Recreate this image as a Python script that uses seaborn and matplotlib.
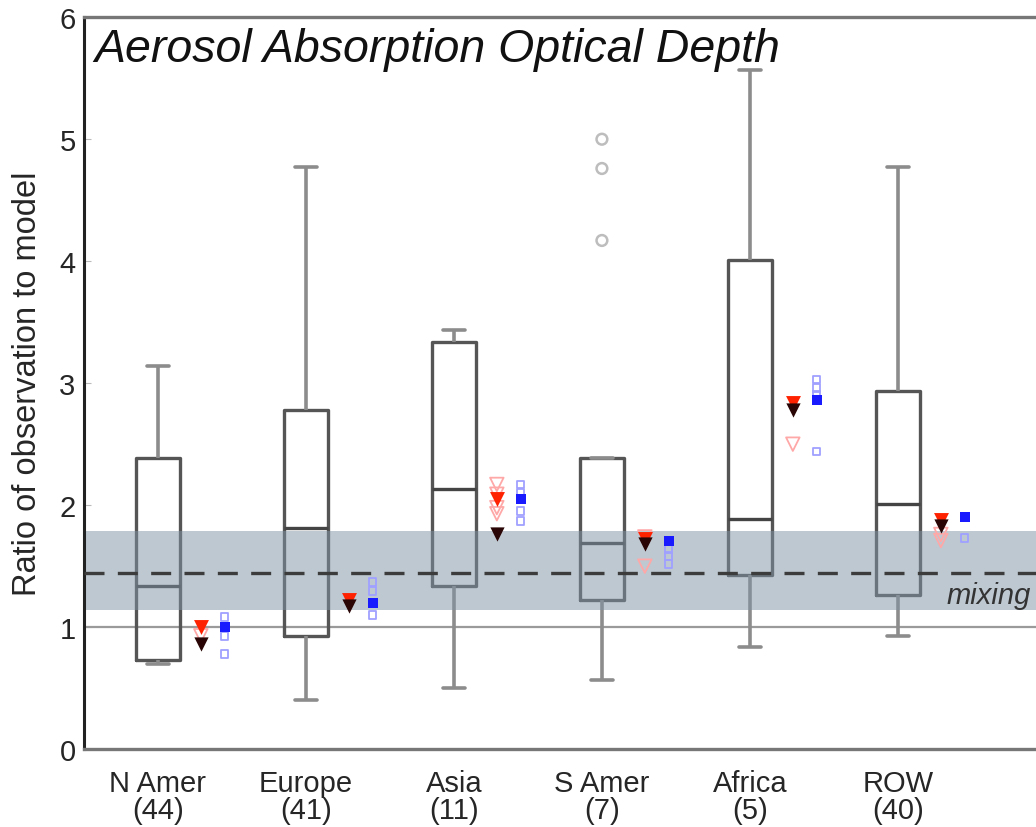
import numpy as np
import pandas as pd
import matplotlib
matplotlib.use('Agg')
import matplotlib.pyplot as plt
import seaborn as sns

# five-number summaries: whisker low, Q1, median, Q3, whisker high
regions = ['N Amer', 'Europe', 'Asia', 'S Amer', 'Africa', 'ROW']
counts = [44, 41, 11, 7, 5, 40]
whisk_lo = [0.70, 0.40, 0.50, 0.57, 0.84, 0.93]
q1 = [0.73, 0.93, 1.34, 1.22, 1.43, 1.26]
median = [1.34, 1.81, 2.13, 1.69, 1.89, 2.01]
q3 = [2.39, 2.78, 3.34, 2.39, 4.01, 2.94]
whisk_hi = [3.14, 4.77, 3.44, 2.39, 5.57, 4.77]

# outliers (S Amer)
outlier_region = ['S Amer', 'S Amer', 'S Amer']
outlier_value = [5.0, 4.76, 4.17]

# model points next to each box
red_main = [1.00, 1.22, 2.05, 1.72, 2.84, 1.88]
dark_main = [0.86, 1.17, 1.76, 1.68, 2.78, 1.83]
red_open_region = ['N Amer', 'Asia', 'Asia', 'Asia', 'Asia', 'S Amer', 'S Amer', 'Africa', 'ROW', 'ROW']
red_open_value = [0.93, 2.17, 2.09, 1.98, 1.93, 1.74, 1.50, 2.50, 1.76, 1.71]
blue_main = [1.00, 1.20, 2.05, 1.71, 2.86, 1.90]
blue_open_region = ['N Amer', 'N Amer', 'N Amer', 'Europe', 'Europe', 'Europe',
                    'Asia', 'Asia', 'Asia', 'Asia', 'S Amer', 'S Amer', 'S Amer',
                    'Africa', 'Africa', 'Africa', 'Africa', 'ROW']
blue_open_value = [1.08, 0.93, 0.78, 1.37, 1.30, 1.10,
                   2.17, 2.10, 1.95, 1.87, 1.64, 1.58, 1.52,
                   3.03, 2.96, 2.90, 2.44, 1.73]

band_lo, band_hi = 1.14, 1.79
dashed_y = 1.44
ref_y = 1.0

rows = []
for i, r in enumerate(regions):
    for v in [whisk_lo[i], q1[i], median[i], q3[i], whisk_hi[i]]:
        rows.append({'region': r, 'ratio': v})
df = pd.DataFrame(rows)

sns.set_style('white')
plt.rcParams['font.family'] = ['Liberation Sans', 'DejaVu Sans']

fig = plt.figure(figsize=(10.36, 8.28), dpi=100)
ax = fig.add_axes([0.081, 0.094, 1.0, 0.884])

box_col = '#555555'
wh_col = '#8c8c8c'
sns.boxplot(data=df, x='region', y='ratio', order=regions, whis=(0, 100), width=0.3,
            fill=False, color=box_col, linewidth=2.4, showfliers=False, ax=ax,
            whiskerprops=dict(color=wh_col, linewidth=2.6),
            capprops=dict(color=wh_col, linewidth=2.6),
            medianprops=dict(color='#444444', linewidth=2.4))
for line in ax.lines:
    line.set_zorder(2)

pos = {r: i for i, r in enumerate(regions)}
ax.scatter([pos[r] for r in outlier_region], outlier_value, s=60, facecolors='none',
           edgecolors='#bdbdbd', linewidths=1.8, zorder=3)

# reference lines and band
ax.axhspan(band_lo, band_hi, color='#7f93a5', alpha=0.5, lw=0, zorder=2.5)
ax.axhline(ref_y, color='#9a9a9a', lw=1.6, zorder=1)
ax.axhline(dashed_y, color='#3c3c3c', lw=2.4, dashes=(6, 4), zorder=2.6)

x = np.arange(len(regions))
red_dx, blue_dx = 0.29, 0.45
ax.scatter([pos[r] + red_dx for r in red_open_region], red_open_value, marker='v', s=95,
           facecolors='none', edgecolors='#ffa8a8', linewidths=1.3, zorder=4)
ax.scatter(x + red_dx, red_main, marker='v', s=115, color='#ff2200', zorder=5, lw=0)
ax.scatter(x + red_dx, dark_main, marker='v', s=105, color='#2a0505', zorder=5, lw=0)
ax.scatter([pos[r] + blue_dx for r in blue_open_region], blue_open_value, marker='s', s=32,
           facecolors='none', edgecolors='#a0a0ff', linewidths=1.3, zorder=4)
ax.scatter(x + blue_dx, blue_main, marker='s', s=48, color='#1a1aff', zorder=5, lw=0)

ax.text(-0.43, 5.74, 'Aerosol Absorption Optical Depth', style='italic', fontsize=33.5,
        color='#111111', va='center', ha='left')
ax.text(5.33, 1.26, 'mixing', style='italic', fontsize=21, color='#333333',
        va='center', ha='left')

ax.set_xlim(-0.5, 6.5)
ax.set_ylim(0, 6)
ax.set_yticks(range(7))
ax.set_xticks(x)
ax.set_xticklabels([f'{r}\n({c})' for r, c in zip(regions, counts)], fontsize=21,
                   linespacing=0.95)
ax.tick_params(axis='y', labelsize=21, direction='in', length=5, color='#bbbbbb',
               left=True, pad=6)
ax.tick_params(axis='x', length=0, pad=14)
ax.set_xlabel('')
ax.set_ylabel('Ratio of observation to model', fontsize=23.5, labelpad=12)

ax.spines['left'].set_color('#222222')
ax.spines['left'].set_linewidth(2.2)
for s in ['top', 'bottom']:
    ax.spines[s].set_color('#777777')
    ax.spines[s].set_linewidth(2.4)
ax.spines['right'].set_visible(False)

fig.savefig('out.png', dpi=100)
